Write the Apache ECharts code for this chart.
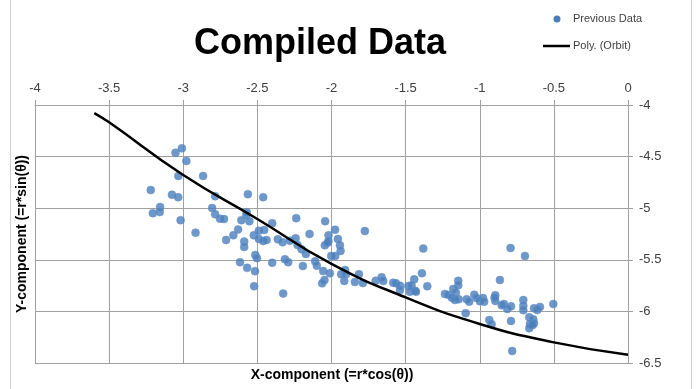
<!DOCTYPE html>
<html>
<head>
<meta charset="utf-8">
<script src="https://cdn.jsdelivr.net/npm/echarts@6/dist/echarts.min.js"></script>
<style>
  html, body { margin: 0; padding: 0; background: #fff; }
  #chart { width: 697px; height: 389px; }
</style>
</head>
<body>
<div id="chart"></div>
<script>
// previous data
var prevX = [
    -3.052, -3.009, -2.979, -3.033, -2.866, -3.219, -3.076, -3.034, -2.785, -2.564,
    -3.156, -3.205, -3.158, -2.805, -2.785, -2.752, -2.725, -3.018, -2.572, -2.574,
    -2.608, -2.554, -2.917, -2.630, -2.662, -2.711, -2.589, -2.589, -2.524, -2.490,
    -2.514, -2.503, -2.617, -2.569, -2.516, -2.522, -2.461, -2.238, -2.400, -2.043,
    -1.775, -1.976, -2.148, -2.020, -2.020, -1.957, -2.045, -2.026, -1.943, -1.939,
    -2.002, -1.975, -2.454, -2.490, -2.461, -2.438, -2.362, -2.330, -2.281, -2.242,
    -2.229, -2.202, -2.173, -2.110, -2.099, -2.314, -2.292, -2.400, -2.193, -2.056,
    -2.011, -2.047, -2.063, -1.908, -1.935, -1.903, -1.914, -1.842, -1.815, -1.788,
    -1.702, -2.326, -1.381, -1.390, -1.442, -1.354, -1.662, -1.651, -1.584, -1.565,
    -1.538, -1.538, -1.482, -1.460, -1.471, -1.437, -1.430, -1.235, -1.210, -1.179,
    -1.161, -1.145, -1.145, -1.188, -1.167, -1.142, -1.088, -1.071, -1.037, -1.021,
    -0.999, -0.978, -0.970, -1.095, -0.936, -0.895, -0.895, -0.864, -0.792, -0.695,
    -0.900, -0.837, -0.852, -0.814, -0.789, -0.706, -0.706, -0.706, -0.634, -0.612,
    -0.594, -0.504, -0.789, -0.666, -0.639, -0.661, -0.634, -0.666, -0.643, -0.920,
    -0.781
];
var prevY = [
    -4.462, -4.420, -4.543, -4.688, -4.688, -4.824, -4.869, -4.893, -4.884, -4.864,
    -4.988, -5.048, -5.037, -4.998, -5.058, -5.102, -5.105, -5.116, -5.039, -5.068,
    -5.116, -5.126, -5.237, -5.206, -5.262, -5.308, -5.323, -5.376, -5.263, -5.219,
    -5.453, -5.484, -5.523, -5.578, -5.610, -5.756, -4.894, -5.097, -5.146, -5.126,
    -5.221, -5.208, -5.250, -5.263, -5.318, -5.298, -5.360, -5.334, -5.360, -5.415,
    -5.463, -5.463, -5.211, -5.298, -5.318, -5.308, -5.301, -5.330, -5.315, -5.292,
    -5.357, -5.398, -5.444, -5.515, -5.557, -5.495, -5.524, -5.528, -5.560, -5.609,
    -5.631, -5.696, -5.728, -5.599, -5.640, -5.640, -5.705, -5.715, -5.640, -5.725,
    -5.703, -5.827, -5.391, -5.631, -5.689, -5.756, -5.670, -5.705, -5.722, -5.728,
    -5.751, -5.793, -5.754, -5.747, -5.809, -5.799, -5.809, -5.831, -5.841, -5.783,
    -5.819, -5.703, -5.747, -5.867, -5.890, -5.883, -5.883, -5.906, -5.838, -5.870,
    -5.902, -5.870, -5.906, -6.018, -6.083, -5.844, -5.899, -5.696, -5.386, -5.463,
    -5.867, -5.928, -5.941, -5.977, -5.951, -5.890, -5.945, -5.989, -5.970, -5.986,
    -5.957, -5.928, -6.093, -6.057, -6.077, -6.122, -6.115, -6.164, -6.132, -6.125,
    -6.384
];

// polynomial trend line
var orbitX = [-3.6, -3.5, -3.0, -2.5, -2.0, -1.5, -1.0, -0.5, 0];
var orbitY = [-4.078, -4.168, -4.678, -5.105, -5.54, -5.864, -6.122, -6.30, -6.42];

var FONT = "'Liberation Sans', Arial, sans-serif";

var scatterData = prevX.map(function (x, i) { return [x, prevY[i]]; });
var orbitData = orbitX.map(function (x, i) { return [x, orbitY[i]]; });

var chart = echarts.init(document.getElementById('chart'));

var gridLine = { lineStyle: { color: '#a0a0a0', width: 1 } };

chart.setOption({
    animation: false,
    backgroundColor: '#fff',
    grid: { left: 35, right: 69, top: 105, bottom: 26, containLabel: false },
    xAxis: {
        type: 'value',
        position: 'top',
        min: -4,
        max: 0,
        interval: 0.5,
        axisLine: { show: true, onZero: false, lineStyle: { color: '#a0a0a0', width: 1 } },
        axisTick: { show: true, length: 5, lineStyle: { color: '#a0a0a0' } },
        axisLabel: { color: '#404040', fontSize: 13, fontFamily: FONT, margin: 10 },
        splitLine: gridLine
    },
    yAxis: {
        type: 'value',
        position: 'right',
        min: -6.5,
        max: -4,
        interval: 0.5,
        axisLine: { show: true, onZero: false, lineStyle: { color: '#a0a0a0', width: 1 } },
        axisTick: { show: true, length: 5, lineStyle: { color: '#a0a0a0' } },
        axisLabel: { color: '#404040', fontSize: 13, fontFamily: FONT, margin: 11 },
        splitLine: gridLine
    },
    series: [
        {
            name: 'Previous Data',
            type: 'scatter',
            symbol: 'circle',
            symbolSize: 8,
            itemStyle: { color: '#4a7ebb', borderColor: '#6a94cb', borderWidth: 0.6 },
            data: scatterData,
            z: 2
        },
        {
            name: 'Poly. (Orbit)',
            type: 'line',
            smooth: true,
            showSymbol: false,
            lineStyle: { color: '#000', width: 2.5 },
            data: orbitData,
            z: 3
        }
    ],
    graphic: [
        // chart frame edges
        { type: 'line', shape: { x1: 10.5, y1: 0, x2: 10.5, y2: 389 }, style: { stroke: '#d0d0d0', lineWidth: 1 } },
        { type: 'line', shape: { x1: 691.5, y1: 0, x2: 691.5, y2: 389 }, style: { stroke: '#d0d0d0', lineWidth: 1 } },
        {
            type: 'text', x: 320, y: 44,
            style: { text: 'Compiled Data', fill: '#000', font: 'bold 36px ' + FONT, textAlign: 'center', textVerticalAlign: 'middle' }
        },
        // legend
        { type: 'circle', shape: { cx: 557, cy: 19, r: 3.5 }, style: { fill: '#4a7ebb' } },
        {
            type: 'text', x: 573, y: 19,
            style: { text: 'Previous Data', fill: '#404040', font: '11px ' + FONT, textVerticalAlign: 'middle' }
        },
        { type: 'line', shape: { x1: 543, y1: 46, x2: 570, y2: 46 }, style: { stroke: '#000', lineWidth: 2.5 } },
        {
            type: 'text', x: 573, y: 46,
            style: { text: 'Poly. (Orbit)', fill: '#404040', font: '11px ' + FONT, textVerticalAlign: 'middle' }
        },
        // axis titles
        {
            type: 'text', x: 332, y: 375,
            style: { text: 'X-component (=r*cos(θ))', fill: '#000', font: 'bold 14px ' + FONT, textAlign: 'center', textVerticalAlign: 'middle' }
        },
        {
            type: 'text', x: 22, y: 234, rotation: Math.PI / 2,
            style: { text: 'Y-component (=r*sin(θ))', fill: '#000', font: 'bold 14px ' + FONT, textAlign: 'center', textVerticalAlign: 'middle' }
        }
    ]
});
</script>
</body>
</html>
